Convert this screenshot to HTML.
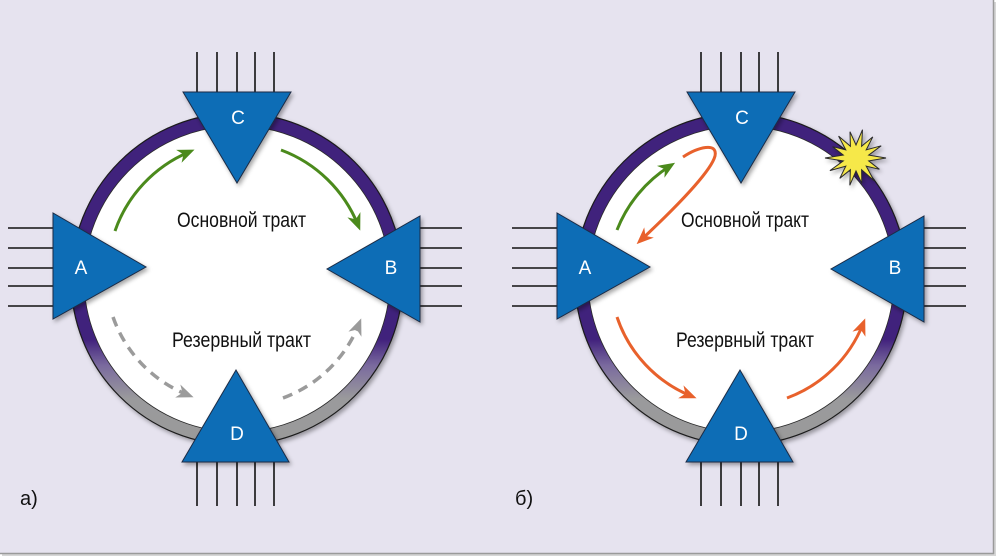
<!DOCTYPE html>
<html><head><meta charset="utf-8"><style>
html,body{margin:0;padding:0;background:#fff;}
svg{display:block;}
text{font-family:"Liberation Sans Narrow","Liberation Sans","DejaVu Sans",sans-serif;}
</style></head><body>
<svg width="1000" height="560" viewBox="0 0 1000 560" xmlns="http://www.w3.org/2000/svg">
<defs>
  <filter id="sh" x="-20%" y="-20%" width="140%" height="140%">
    <feDropShadow dx="2" dy="2.5" stdDeviation="2" flood-color="#000" flood-opacity="0.35"/>
  </filter>
  <linearGradient id="ringL" gradientUnits="userSpaceOnUse" x1="0" y1="113" x2="0" y2="445">
    <stop offset="0" stop-color="#40207c"/>
    <stop offset="0.68" stop-color="#40207c"/>
    <stop offset="0.76" stop-color="#7a6a9e"/>
    <stop offset="0.86" stop-color="#9a9a9c"/>
    <stop offset="1" stop-color="#9a9a9a"/>
  </linearGradient>
  <marker id="mg" viewBox="-16 -8 19 16" refX="-3" refY="0" markerWidth="19" markerHeight="16" markerUnits="userSpaceOnUse" orient="auto">
    <path d="M3,0 L-14,-7 L-9,0 L-14,7 Z" fill="#4b8a1c"/>
  </marker>
  <marker id="mgr" viewBox="-16 -8 19 16" refX="-3" refY="0" markerWidth="19" markerHeight="16" markerUnits="userSpaceOnUse" orient="auto">
    <path d="M3,0 L-14,-7 L-9,0 L-14,7 Z" fill="#9b9b9b"/>
  </marker>
  <marker id="mo" viewBox="-16 -8 19 16" refX="-3" refY="0" markerWidth="19" markerHeight="16" markerUnits="userSpaceOnUse" orient="auto">
    <path d="M3,0 L-14,-7 L-9,0 L-14,7 Z" fill="#e8612c"/>
  </marker>
</defs>

<!-- panel -->
<rect x="0" y="0" width="1000" height="560" fill="#ffffff"/>
<rect x="2" y="2" width="994" height="554" fill="#d6d6d6"/>
<rect x="0" y="0" width="993" height="553" fill="#e6e3ef"/>
<line x1="993.5" y1="0" x2="993.5" y2="554" stroke="#9a9a9a" stroke-width="1.5"/>
<line x1="0" y1="553.5" x2="994" y2="553.5" stroke="#9a9a9a" stroke-width="1.5"/>

<!-- ================= LEFT DIAGRAM ================= -->
<g>
  <!-- lines -->
  <g stroke="#111" stroke-width="1.6">
    <line x1="197" y1="52" x2="197" y2="92"/><line x1="217" y1="52" x2="217" y2="92"/><line x1="237" y1="52" x2="237" y2="92"/><line x1="255" y1="52" x2="255" y2="92"/><line x1="274" y1="52" x2="274" y2="92"/>
    <line x1="197" y1="462" x2="197" y2="506"/><line x1="217" y1="462" x2="217" y2="506"/><line x1="237" y1="462" x2="237" y2="506"/><line x1="255" y1="462" x2="255" y2="506"/><line x1="274" y1="462" x2="274" y2="506"/>
    <line x1="8" y1="228" x2="53" y2="228"/><line x1="8" y1="248" x2="53" y2="248"/><line x1="8" y1="268" x2="53" y2="268"/><line x1="8" y1="286" x2="53" y2="286"/><line x1="8" y1="306" x2="53" y2="306"/>
    <line x1="420" y1="228" x2="462" y2="228"/><line x1="420" y1="248" x2="462" y2="248"/><line x1="420" y1="268" x2="462" y2="268"/><line x1="420" y1="286" x2="462" y2="286"/><line x1="420" y1="306" x2="462" y2="306"/>
  </g>
  <!-- ring -->
  <circle cx="237" cy="279" r="166" fill="url(#ringL)" stroke="#1a1a1a" stroke-width="1.2" filter="url(#sh)"/>
  <circle cx="237" cy="279" r="153" fill="#ffffff" stroke="#2a2a2a" stroke-width="0.8"/>
  <!-- arrows -->
  <path d="M115,231 A133,133 0 0 1 189,152" fill="none" stroke="#4b8a1c" stroke-width="3" marker-end="url(#mg)"/>
  <path d="M281,150 A133,133 0 0 1 358,225" fill="none" stroke="#4b8a1c" stroke-width="3" marker-end="url(#mg)"/>
  <path d="M113,317 A130,130 0 0 0 188,395" fill="none" stroke="#9b9b9b" stroke-width="3.5" stroke-dasharray="10,7" marker-end="url(#mgr)"/>
  <path d="M283,398 A130,130 0 0 0 359,324" fill="none" stroke="#9b9b9b" stroke-width="3.5" stroke-dasharray="10,7" marker-end="url(#mgr)"/>
  <!-- triangles -->
  <g fill="#0a6db6" stroke="#1c2c45" stroke-width="1" filter="url(#sh)">
    <polygon points="183,92 291,92 237,183"/>
    <polygon points="182,462 289,462 236,370"/>
    <polygon points="53,213 53,319 146,267"/>
    <polygon points="420,216 420,322 327,269"/>
  </g>
  <g fill="#ffffff" font-size="19" text-anchor="middle">
    <text x="238" y="124">C</text>
    <text x="237" y="440">D</text>
    <text x="81" y="274">A</text>
    <text x="391" y="274">B</text>
  </g>
  <text x="177" y="227" font-size="21" fill="#111" textLength="129" lengthAdjust="spacingAndGlyphs">Основной тракт</text>
  <text x="172" y="347" font-size="21" fill="#111" textLength="139" lengthAdjust="spacingAndGlyphs">Резервный тракт</text>
  <text x="20" y="505" font-size="20" fill="#111">а)</text>
</g>

<!-- ================= RIGHT DIAGRAM ================= -->
<g>
  <g stroke="#111" stroke-width="1.6">
    <line x1="701" y1="52" x2="701" y2="92"/><line x1="721" y1="52" x2="721" y2="92"/><line x1="741" y1="52" x2="741" y2="92"/><line x1="759" y1="52" x2="759" y2="92"/><line x1="778" y1="52" x2="778" y2="92"/>
    <line x1="701" y1="462" x2="701" y2="506"/><line x1="721" y1="462" x2="721" y2="506"/><line x1="741" y1="462" x2="741" y2="506"/><line x1="759" y1="462" x2="759" y2="506"/><line x1="778" y1="462" x2="778" y2="506"/>
    <line x1="512" y1="228" x2="557" y2="228"/><line x1="512" y1="248" x2="557" y2="248"/><line x1="512" y1="268" x2="557" y2="268"/><line x1="512" y1="286" x2="557" y2="286"/><line x1="512" y1="306" x2="557" y2="306"/>
    <line x1="924" y1="228" x2="966" y2="228"/><line x1="924" y1="248" x2="966" y2="248"/><line x1="924" y1="268" x2="966" y2="268"/><line x1="924" y1="286" x2="966" y2="286"/><line x1="924" y1="306" x2="966" y2="306"/>
  </g>
  <g transform="translate(504,0)">
    <circle cx="237" cy="279" r="166" fill="url(#ringL)" stroke="#1a1a1a" stroke-width="1.2" filter="url(#sh)"/>
    <circle cx="237" cy="279" r="153" fill="#ffffff" stroke="#2a2a2a" stroke-width="0.8"/>
  </g>
  <!-- starburst -->
  <polygon points="886,158 868.7,160.9 879.4,169.3 866.2,166.1 874.1,180.7 861.6,169.7 861.8,183.4 856,171 849.8,185.3 850.4,169.7 839.8,178.3 845.8,166.1 829.9,170.6 843.3,160.9 825,158 843.3,155.1 832.6,146.7 845.8,149.9 838.6,136.1 850.4,146.3 850,131.7 856,145 862.5,129.7 861.6,146.3 872.8,136.9 866.2,149.9 881.2,145.8 868.7,155.1" fill="#f6e84a" stroke="#2a2a2a" stroke-width="1" stroke-linejoin="miter" filter="url(#sh)"/>
  <!-- arrows -->
  <path d="M617,230 A133,133 0 0 1 670,166" fill="none" stroke="#4b8a1c" stroke-width="3" marker-end="url(#mg)"/>
  <path d="M683,157 C698,147 718,142 715,156 C712,168 688,196 641,240" fill="none" stroke="#e8612c" stroke-width="3" marker-end="url(#mo)"/>
  <path d="M617,317 A130,130 0 0 0 691,396" fill="none" stroke="#e8612c" stroke-width="3" marker-end="url(#mo)"/>
  <path d="M787,398 A130,130 0 0 0 863,324" fill="none" stroke="#e8612c" stroke-width="3" marker-end="url(#mo)"/>
  <!-- triangles -->
  <g fill="#0a6db6" stroke="#1c2c45" stroke-width="1" filter="url(#sh)" transform="translate(504,0)">
    <polygon points="183,92 291,92 237,183"/>
    <polygon points="182,462 289,462 236,370"/>
    <polygon points="53,213 53,319 146,267"/>
    <polygon points="420,216 420,322 327,269"/>
  </g>
  <g fill="#ffffff" font-size="19" text-anchor="middle" transform="translate(504,0)">
    <text x="238" y="124">C</text>
    <text x="237" y="440">D</text>
    <text x="81" y="274">A</text>
    <text x="391" y="274">B</text>
  </g>
  <text x="681" y="227" font-size="21" fill="#111" textLength="128" lengthAdjust="spacingAndGlyphs">Основной тракт</text>
  <text x="676" y="347" font-size="21" fill="#111" textLength="138" lengthAdjust="spacingAndGlyphs">Резервный тракт</text>
  <text x="515" y="505" font-size="20" fill="#111">б)</text>
</g>
</svg>
</body></html>
